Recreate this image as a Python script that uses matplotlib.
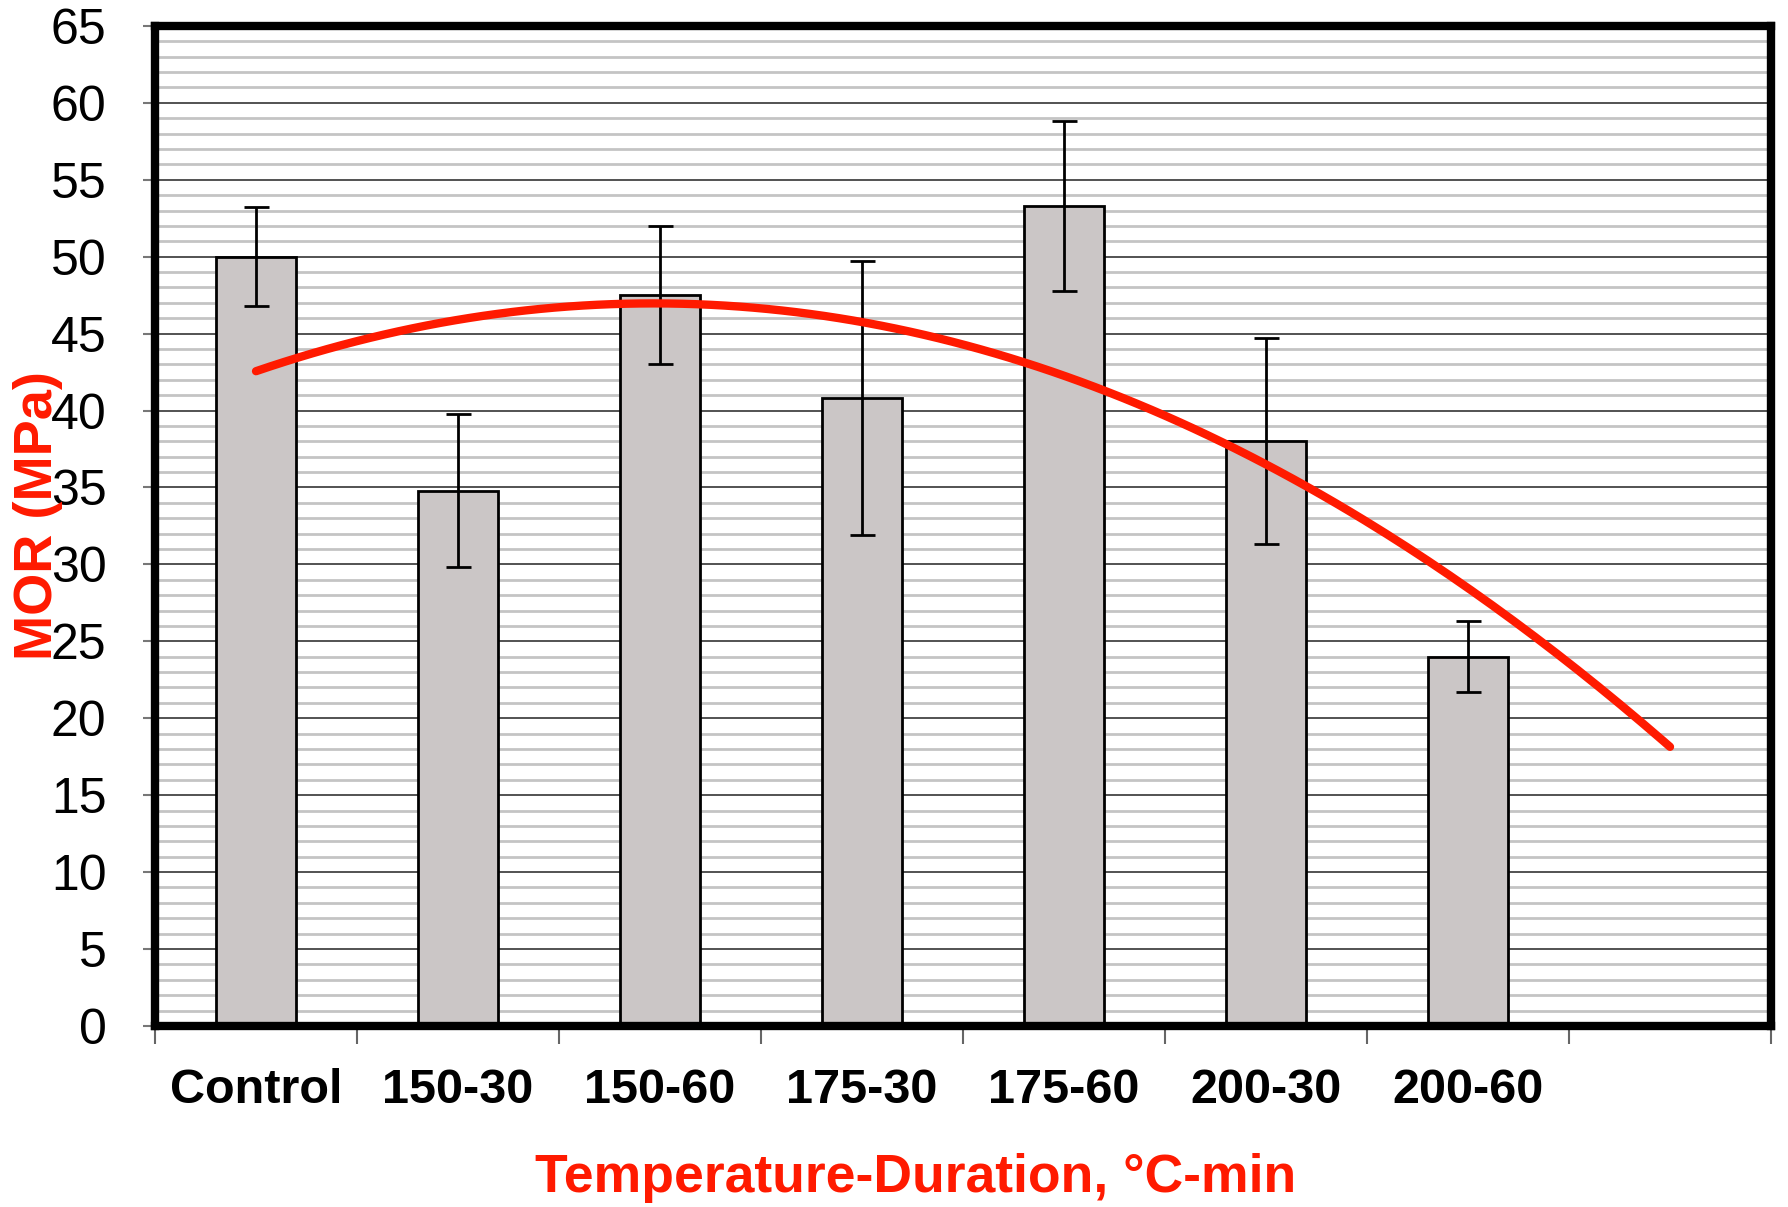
import matplotlib
matplotlib.use('Agg')
import matplotlib.pyplot as plt
import numpy as np
from matplotlib.ticker import MultipleLocator, FixedLocator

categories = ['Control', '150-30', '150-60', '175-30', '175-60', '200-30', '200-60']
mor_values = [50.0, 34.8, 47.5, 40.8, 53.3, 38.0, 24.0]
mor_errors = [3.2, 5.0, 4.5, 8.9, 5.5, 6.7, 2.3]

n_slots = len(categories) + 1  # one empty slot on the right for the trend forecast
red = '#ff1a00'

fig = plt.figure(figsize=(17.88, 12.07), dpi=100)
ax = fig.add_axes([0.0867, 0.150, 0.9038, 0.8285])

x = np.arange(len(categories))
ax.bar(x, mor_values, width=0.4, color='#cbc6c6', edgecolor='black',
       linewidth=2.0, zorder=3)
ax.errorbar(x, mor_values, yerr=mor_errors, fmt='none', ecolor='black',
            elinewidth=2.0, capsize=9, capthick=2.0, zorder=4)

# polynomial (order 2) trendline, forecast forward one period
coef = np.polyfit(x, mor_values, 2)
xs = np.linspace(0, len(categories), 200)
ax.plot(xs, np.polyval(coef, xs), color=red, linewidth=6, zorder=5,
        solid_capstyle='round')

ax.set_xlim(-0.5, n_slots - 0.5)
ax.set_ylim(0, 65)

# y axis
ax.yaxis.set_major_locator(MultipleLocator(5))
ax.yaxis.set_minor_locator(MultipleLocator(1))
ax.grid(True, which='minor', axis='y', color='#c4c4c4', linewidth=2.0, zorder=0)
ax.grid(True, which='major', axis='y', color='#444444', linewidth=1.3, zorder=1)
ax.tick_params(axis='y', which='major', length=9, width=1.5, color='#777777',
               pad=26, labelsize=36)
ax.tick_params(axis='y', which='minor', length=0)
for lab in ax.get_yticklabels():
    lab.set_family(['Liberation Sans Narrow', 'Liberation Sans', 'DejaVu Sans'])

# x axis: labels at centres, tick marks at slot boundaries
ax.set_xticks(x)
ax.set_xticklabels(categories, fontsize=35, fontweight='bold',
                   family=['Liberation Sans', 'DejaVu Sans'])
ax.xaxis.set_minor_locator(FixedLocator(np.arange(-0.5, n_slots, 1.0)))
ax.tick_params(axis='x', which='major', length=0, pad=30)
ax.tick_params(axis='x', which='minor', length=13, width=1.5, color='#666666')

for s in ax.spines.values():
    s.set_linewidth(6)
    s.set_color('black')
    s.set_zorder(6)

fig.text(0.512, 0.024, 'Temperature-Duration, °C-min', color=red, fontsize=38.5,
         fontweight='bold', ha='center', va='center',
         family=['Liberation Sans', 'DejaVu Sans'])
fig.text(0.021, 0.573, 'MOR (MPa)', color=red, fontsize=39, fontweight='bold',
         rotation=90, ha='center', va='center',
         family=['Liberation Sans', 'DejaVu Sans'])

fig.savefig('out.png', dpi=100, facecolor='white')
